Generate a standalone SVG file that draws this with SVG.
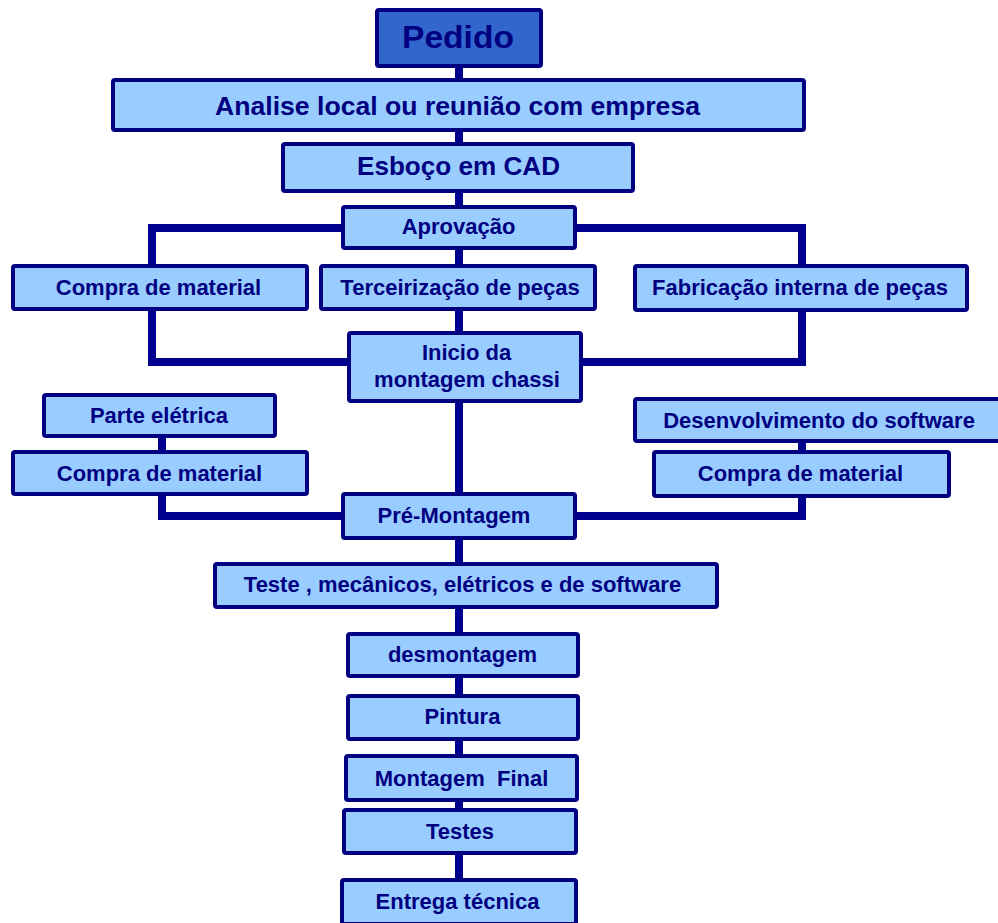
<svg xmlns="http://www.w3.org/2000/svg" width="998" height="923" viewBox="0 0 998 923">
  <style>
    .box { fill: #99ccff; stroke: #000080; stroke-width: 4; }
    .top { fill: #3366cc; stroke: #000080; stroke-width: 4; }
    .lbl { font-family: "Liberation Sans", Arial, sans-serif; font-weight: bold; fill: #000080; text-anchor: middle; font-size: 22px; }
    .link { fill: none; stroke: #000090; stroke-width: 8; }
  </style>
  <rect width="998" height="923" fill="#ffffff"/>

  <!-- connectors -->
  <g id="connectors">
    <line class="link" x1="459" y1="66" x2="459" y2="880"/>
    <polyline class="link" points="342,228 152,228 152,265"/>
    <polyline class="link" points="152,309 152,362 348,362"/>
    <polyline class="link" points="576,228 802,228 802,265"/>
    <polyline class="link" points="802,310 802,362 582,362"/>
    <line class="link" x1="162" y1="436" x2="162" y2="451"/>
    <polyline class="link" points="162,494 162,516 342,516"/>
    <line class="link" x1="802" y1="441" x2="802" y2="451"/>
    <polyline class="link" points="802,496 802,516 576,516"/>
  </g>

  <g id="pedido">
    <rect class="top" x="377" y="10" width="164" height="56" rx="2"/>
    <text class="lbl" x="458" y="48" style="font-size:32px" textLength="112" lengthAdjust="spacingAndGlyphs">Pedido</text>
  </g>
  <g id="analise">
    <rect class="box" x="113" y="80" width="691" height="50" rx="2"/>
    <text class="lbl" x="457.5" y="115" style="font-size:26.5px" textLength="485" lengthAdjust="spacingAndGlyphs">Analise local ou reunião com empresa</text>
  </g>
  <g id="esboco">
    <rect class="box" x="283" y="144" width="350" height="47" rx="2"/>
    <text class="lbl" x="458.5" y="175" style="font-size:26px" textLength="203" lengthAdjust="spacingAndGlyphs">Esboço em CAD</text>
  </g>
  <g id="aprovacao">
    <rect class="box" x="343" y="207" width="232" height="41" rx="2"/>
    <text class="lbl" x="458.5" y="234">Aprovação</text>
  </g>
  <g id="compra1">
    <rect class="box" x="13" y="266" width="294" height="43" rx="2"/>
    <text class="lbl" x="158.5" y="295">Compra de material</text>
  </g>
  <g id="terceirizacao">
    <rect class="box" x="321" y="266" width="274" height="43" rx="2"/>
    <text class="lbl" x="460" y="295">Terceirização de peças</text>
  </g>
  <g id="fabricacao">
    <rect class="box" x="635" y="266" width="332" height="44" rx="2"/>
    <text class="lbl" x="800" y="295">Fabricação interna de peças</text>
  </g>
  <g id="inicio">
    <rect class="box" x="349" y="333" width="232" height="68" rx="2"/>
    <text class="lbl" x="466.5" y="360">Inicio da</text>
    <text class="lbl" x="467" y="387">montagem chassi</text>
  </g>
  <g id="parte-eletrica">
    <rect class="box" x="44" y="395" width="231" height="41" rx="2"/>
    <text class="lbl" x="159" y="423">Parte elétrica</text>
  </g>
  <g id="compra2">
    <rect class="box" x="13" y="452" width="294" height="42" rx="2"/>
    <text class="lbl" x="159.5" y="481">Compra de material</text>
  </g>
  <g id="software">
    <rect class="box" x="635" y="399" width="366" height="42" rx="2"/>
    <text class="lbl" x="819" y="428">Desenvolvimento do software</text>
  </g>
  <g id="compra3">
    <rect class="box" x="654" y="452" width="295" height="44" rx="2"/>
    <text class="lbl" x="800.5" y="481">Compra de material</text>
  </g>
  <g id="pre-montagem">
    <rect class="box" x="343" y="494" width="232" height="44" rx="2"/>
    <text class="lbl" x="454" y="523">Pré-Montagem</text>
  </g>
  <g id="teste">
    <rect class="box" x="215" y="564" width="502" height="43" rx="2"/>
    <text class="lbl" x="462.5" y="592">Teste , mecânicos, elétricos e de software</text>
  </g>
  <g id="desmontagem">
    <rect class="box" x="348" y="634" width="230" height="42" rx="2"/>
    <text class="lbl" x="462.5" y="662">desmontagem</text>
  </g>
  <g id="pintura">
    <rect class="box" x="348" y="696" width="230" height="43" rx="2"/>
    <text class="lbl" x="462.5" y="724">Pintura</text>
  </g>
  <g id="montagem-final">
    <rect class="box" x="346" y="756" width="231" height="44" rx="2"/>
    <text class="lbl" x="461.5" y="786" xml:space="preserve" style="white-space:pre">Montagem  Final</text>
  </g>
  <g id="testes">
    <rect class="box" x="344" y="810" width="232" height="43" rx="2"/>
    <text class="lbl" x="460" y="839">Testes</text>
  </g>
  <g id="entrega">
    <rect class="box" x="342" y="880" width="234" height="44" rx="2"/>
    <text class="lbl" x="457.5" y="909">Entrega técnica</text>
  </g>
</svg>
